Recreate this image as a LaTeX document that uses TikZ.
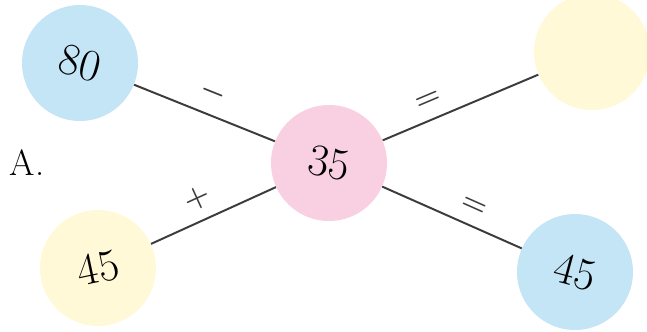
\documentclass[tikz,border=0pt]{standalone}
\usetikzlibrary{positioning}
\definecolor{ballblue}{RGB}{196,229,245}
\definecolor{ballpink}{RGB}{248,208,226}
\definecolor{ballyellow}{RGB}{255,249,216}
\definecolor{linegray}{RGB}{60,60,60}
\begin{document}
\begin{tikzpicture}[x=0.025cm,y=-0.025cm,
every node/.style={circle,inner sep=0pt},
ball/.style={minimum size=2.9cm,font=\fontsize{32}{36}\selectfont},
op/.style={sloped,above=3pt,font=\fontsize{22}{26}\selectfont\boldmath}]
\useasboundingbox (0,0) rectangle (647,331);
\node[ball,fill=ballblue,rotate=-15] (B80) at (80,63) {80};
\node[ball,fill=ballyellow,rotate=12] (B45a) at (98,268) {45};
\node[ball,fill=ballpink,rotate=-10] (B35) at (329,163) {35};
\node[ball,fill=ballyellow] (Btop) at (592,52) {};
\node[ball,fill=ballblue,rotate=-15] (B45b) at (575,272) {45};
\node[font=\fontsize{26}{30}\selectfont] (lab) at (27,163) {A.};
\draw[linegray,line width=1.4pt] (B80)--node[op,pos=.5]{$-$}(B35);
\draw[linegray,line width=1.4pt] (B45a)--node[op,pos=.44]{$+$}(B35);
\draw[linegray,line width=1.4pt] (B35)--node[op,pos=.34]{$=$}(Btop);
\draw[linegray,line width=1.4pt] (B35)--node[op,pos=.6]{$=$}(B45b);
\end{tikzpicture}
\end{document}
